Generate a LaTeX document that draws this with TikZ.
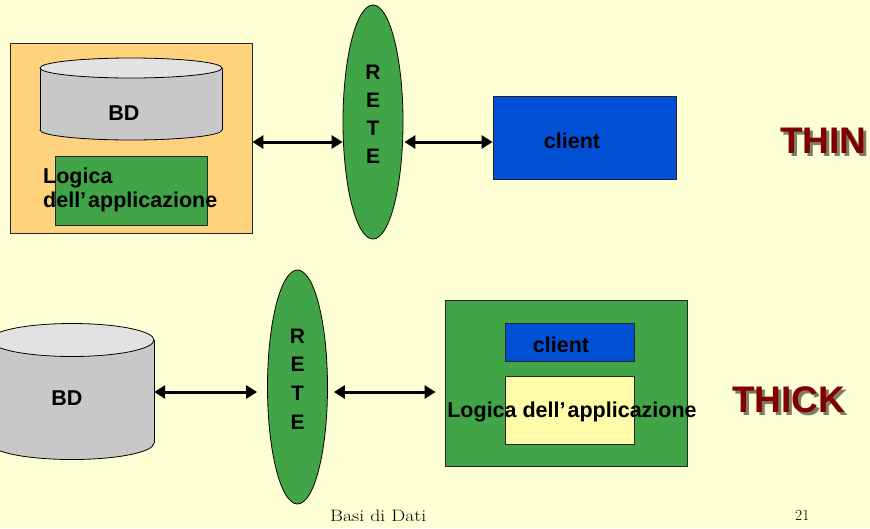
\documentclass[tikz,border=0pt]{standalone}
\usepackage{fontspec}
\newfontfamily\arial{Liberation Sans}
\usetikzlibrary{shapes.geometric,arrows.meta}

\definecolor{bgyellow}{HTML}{FFFFD5}
\definecolor{hostorange}{HTML}{FFD27D}
\definecolor{netgreen}{HTML}{41A547}
\definecolor{clientblue}{HTML}{0050D5}
\definecolor{logicyellow}{HTML}{FFFBA8}
\definecolor{cylside}{HTML}{C8C8C8}
\definecolor{cyltop}{HTML}{E2E2E2}
\definecolor{tagred}{HTML}{800000}
\definecolor{tagshadow}{HTML}{7E7C68}

% heading word with a soft drop shadow
\newcommand{\shadowword}[1]{\rlap{\hspace{3pt}\raisebox{-3pt}{\textcolor{tagshadow}{#1}}}\textcolor{tagred}{#1}}
\newcommand{\apos}{’\kern2pt}

\begin{document}
\begin{tikzpicture}[x=1pt,y=-1pt,
  lbl/.style={font=\arial\bfseries\fontsize{21.5}{24}\selectfont,inner sep=0},
  boxed/.style={draw=black!85,line width=0.8pt,inner sep=0},
  net/.style={ellipse,draw=black,line width=0.8pt,fill=netgreen,
    minimum width=60pt,minimum height=234pt,inner sep=0},
  link/.style={{Triangle[length=11pt,width=13pt]}-{Triangle[length=11pt,width=13pt]},
    line width=3pt},
  tag/.style={font=\arial\bfseries\fontsize{37}{40}\selectfont,inner sep=0,anchor=base west},
  foot/.style={inner sep=0,anchor=base west}]

% page
\fill[bgyellow] (0,0) rectangle (870,528);
\useasboundingbox (0,0) rectangle (870,528);

% ---------- THIN client ----------
\node[boxed,fill=hostorange,minimum width=242pt,minimum height=190pt] (host1) at (131,138) {};
% database drum
\filldraw[fill=cylside,draw=black,line width=0.8pt] (131,130) ellipse [x radius=91pt,y radius=10pt];
\fill[cylside] (40,68) rectangle (222,130);
\draw[line width=0.8pt] (40,68) -- (40,130) (222,68) -- (222,130);
\filldraw[fill=cyltop,draw=black,line width=0.8pt] (131,68) ellipse [x radius=91pt,y radius=10pt];
\node[lbl,anchor=base] (bd1) at (124,120) {BD};
% application logic
\node[boxed,fill=netgreen,minimum width=152pt,minimum height=69pt] (logic1) at (131,190.5) {};
\node[lbl,anchor=base west,align=left] (logic1txt) at (43,207) {Logica\\dell\apos applicazione};

% network
\node[net] (rete1) at (373,122) {};
\node[lbl,align=center,font=\arial\bfseries\fontsize{21}{28}\selectfont] (rete1txt) at (373,114) {R\\E\\T\\E};

% client
\node[boxed,fill=clientblue,minimum width=183pt,minimum height=83pt] (client1) at (584.5,137.5) {};
\node[lbl,anchor=base] (client1txt) at (572,148) {client};

\coordinate (y1) at (0,142);
\draw[link] (host1.east |- y1) -- (rete1.west |- y1);
\draw[link] ([xshift=1pt]rete1.east |- y1) -- (client1.west |- y1);

\node[tag] (thin) at (780,153) {\shadowword{THIN}};

% ---------- THICK client ----------
\filldraw[fill=cylside,draw=black,line width=0.8pt] (72,443) ellipse [x radius=82pt,y radius=16.5pt];
\fill[cylside] (-10,340) rectangle (154,443);
\draw[line width=0.8pt] (154,340) -- (154,443);
\filldraw[fill=cyltop,draw=black,line width=0.8pt] (72,340) ellipse [x radius=82pt,y radius=16.5pt];
\node[inner sep=0,minimum width=164pt,minimum height=103pt] (db2) at (72,391.5) {};
\node[lbl,anchor=base] (bd2) at (67,405) {BD};

% network
\node[net] (rete2) at (297.5,387) {};
\node[lbl,align=center,font=\arial\bfseries\fontsize{21}{28.7}\selectfont] (rete2txt) at (297.5,379) {R\\E\\T\\E};

% client machine with its own logic
\node[boxed,fill=netgreen,minimum width=242pt,minimum height=166pt] (host2) at (566,383) {};
\node[boxed,fill=clientblue,minimum width=129pt,minimum height=38pt] (client2) at (569.5,342) {};
\node[lbl,anchor=base] (client2txt) at (561,352) {client};
\node[boxed,fill=logicyellow,minimum width=129pt,minimum height=68pt] (logic2) at (569.5,410) {};
\node[lbl,anchor=base] (logic2txt) at (572,417) {Logica dell\apos applicazione};

\coordinate (y2) at (0,392);
\draw[link] (db2.east |- y2) -- ([xshift=-10pt]rete2.west |- y2);
\draw[link] ([xshift=6pt]rete2.east |- y2) -- ([xshift=-9pt]host2.west |- y2);

\node[tag] (thick) at (732,412) {\shadowword{THICK}};

% footer
\node[foot,font=\fontsize{16.5}{20}\selectfont] (course) at (330,521) {\scalebox{1.2}[1]{Basi di Dati}};
\node[foot,font=\fontsize{15.5}{18}\selectfont] (page) at (795,520) {21};
\end{tikzpicture}
\end{document}
